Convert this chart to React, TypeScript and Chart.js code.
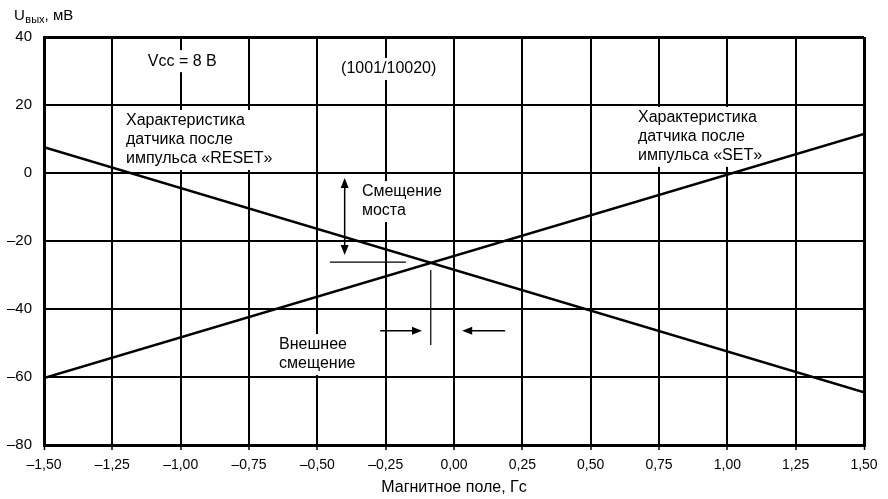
import { useEffect, useRef } from "react";
import { Chart, registerables } from "chart.js";

Chart.register(...registerables);

// ---- data ----
const fieldGs = [-1.5, 1.5];
const resetMv = [7.6, -64.5];
const setMv = [-60.3, 11.5];

const xMin = -1.5;
const xMax = 1.5;
const xStep = 0.25;
const yMin = -80;
const yMax = 40;
const yStep = 20;

const yTitleMain = "U";
const yTitleSub = "вых";
const yTitleRest = ", мВ";
const xTitle = "Магнитное поле, Гс";

const noteTexts = [
  ["Vcc = 8 В"],
  ["(1001/10020)"],
  ["Характеристика", "датчика после", "импульса «RESET»"],
  ["Характеристика", "датчика после", "импульса «SET»"],
  ["Смещение", "моста"],
  ["Внешнее", "смещение"],
];
// anchor (left, first line centre) in data units
const noteX = [-1.12, -0.413, -1.2, 0.673, -0.337, -0.64];
const noteY = [32.9, 30.6, 15.3, 16.2, -5.6, -50.6];

const FONT = "Liberation Sans, Arial, sans-serif";

function fmtX(v: number) {
  return v.toFixed(2).replace(".", ",").replace("-", "–");
}
function fmtY(v: number) {
  return String(v).replace("-", "–");
}

function arrowHead(ctx: CanvasRenderingContext2D, x: number, y: number, dx: number, dy: number) {
  const len = 10;
  const hw = 4;
  const px = -dy;
  const py = dx;
  ctx.beginPath();
  ctx.moveTo(x, y);
  ctx.lineTo(x - dx * len + px * hw, y - dy * len + py * hw);
  ctx.lineTo(x - dx * len - px * hw, y - dy * len - py * hw);
  ctx.closePath();
  ctx.fill();
}

const notesPlugin = {
  id: "notes",
  beforeDatasetsDraw(chart: any) {
    const ctx: CanvasRenderingContext2D = chart.ctx;
    const xs = chart.scales.x;
    const ys = chart.scales.y;
    ctx.save();
    ctx.font = `16px ${FONT}`;
    ctx.textBaseline = "middle";
    ctx.textAlign = "left";
    const lh = 19;
    noteTexts.forEach((lines, i) => {
      const left = xs.getPixelForValue(noteX[i]);
      const top = ys.getPixelForValue(noteY[i]);
      let w = 0;
      lines.forEach((l) => (w = Math.max(w, ctx.measureText(l).width)));
      ctx.fillStyle = "#fff";
      ctx.fillRect(left - 4, top - 11, w + 8, (lines.length - 1) * lh + 22);
      ctx.fillStyle = "#000";
      lines.forEach((l, k) => ctx.fillText(l, left, top + k * lh));
    });
    ctx.restore();
  },
  afterDatasetsDraw(chart: any) {
    const ctx: CanvasRenderingContext2D = chart.ctx;
    const xs = chart.scales.x;
    const ys = chart.scales.y;
    const X = (v: number) => xs.getPixelForValue(v);
    const Y = (v: number) => ys.getPixelForValue(v);
    ctx.save();
    ctx.strokeStyle = "#000";
    ctx.fillStyle = "#000";
    // thin reference lines
    ctx.lineWidth = 1.2;
    ctx.beginPath();
    ctx.moveTo(X(-0.454), Y(-26.2));
    ctx.lineTo(X(-0.176), Y(-26.2));
    ctx.moveTo(X(-0.085), Y(-28.5));
    ctx.lineTo(X(-0.085), Y(-50.6));
    ctx.stroke();
    // double arrow
    ctx.lineWidth = 1.5;
    const ax = X(-0.4);
    const ay1 = Y(-1.5);
    const ay2 = Y(-24.1);
    ctx.beginPath();
    ctx.moveTo(ax, ay1 + 8);
    ctx.lineTo(ax, ay2 - 8);
    ctx.stroke();
    arrowHead(ctx, ax, ay1, 0, -1);
    arrowHead(ctx, ax, ay2, 0, 1);
    // right arrow
    const hy = Y(-46.4);
    ctx.beginPath();
    ctx.moveTo(X(-0.27), hy);
    ctx.lineTo(X(-0.117) - 8, hy);
    ctx.stroke();
    arrowHead(ctx, X(-0.117), hy, 1, 0);
    // left arrow
    ctx.beginPath();
    ctx.moveTo(X(0.187), hy);
    ctx.lineTo(X(0.03) + 8, hy);
    ctx.stroke();
    arrowHead(ctx, X(0.03), hy, -1, 0);
    ctx.restore();
  },
  afterDraw(chart: any) {
    const ctx: CanvasRenderingContext2D = chart.ctx;
    const ca = chart.chartArea;
    ctx.save();
    ctx.fillStyle = "#000";
    ctx.textBaseline = "alphabetic";
    ctx.textAlign = "left";
    ctx.font = `15px ${FONT}`;
    let x = 14;
    ctx.fillText(yTitleMain, x, 20);
    x += ctx.measureText(yTitleMain).width + 0.5;
    ctx.font = `11px ${FONT}`;
    ctx.fillText(yTitleSub, x, 23);
    x += ctx.measureText(yTitleSub).width;
    ctx.font = `15px ${FONT}`;
    ctx.fillText(yTitleRest, x, 20);
    ctx.textAlign = "center";
    ctx.font = `16px ${FONT}`;
    ctx.fillText(xTitle, (ca.left + ca.right) / 2, 492);
    ctx.restore();
  },
};

export default function App() {
  const ref = useRef<HTMLCanvasElement>(null);
  useEffect(() => {
    if (!ref.current) return;
    const chart = new Chart(ref.current, {
      type: "scatter",
      data: {
        datasets: [
          {
            label: "RESET",
            data: fieldGs.map((x, i) => ({ x, y: resetMv[i] })),
            showLine: true,
            borderColor: "#000",
            borderWidth: 2.6,
            pointRadius: 0,
          },
          {
            label: "SET",
            data: fieldGs.map((x, i) => ({ x, y: setMv[i] })),
            showLine: true,
            borderColor: "#000",
            borderWidth: 2.6,
            pointRadius: 0,
          },
        ],
      },
      options: {
        animation: false,
        responsive: false,
        layout: { padding: { left: 0, top: 37, right: 24, bottom: 0 } },
        plugins: { legend: { display: false }, tooltip: { enabled: false } },
        scales: {
          x: {
            type: "linear",
            min: xMin,
            max: xMax,
            afterFit: (s: any) => {
              s.height = 54;
            },
            ticks: {
              stepSize: xStep,
              callback: (v: any) => fmtX(Number(v)),
              color: "#000",
              font: { family: FONT, size: 14 },
              padding: 7,
              maxRotation: 0,
              autoSkip: false,
            },
            grid: {
              color: "#000",
              lineWidth: (c: any) =>
                c.tick && (c.tick.value === xMin || c.tick.value === xMax) ? 3 : 2,
              drawTicks: true,
              tickLength: 5,
              tickWidth: 1.5,
              tickColor: "#000",
            },
            border: { color: "#000", width: 3 },
          },
          y: {
            min: yMin,
            max: yMax,
            afterFit: (s: any) => {
              s.width = 44;
            },
            ticks: {
              stepSize: yStep,
              callback: (v: any) => fmtY(Number(v)),
              color: "#000",
              font: { family: FONT, size: 15 },
              padding: 12,
            },
            grid: {
              color: "#000",
              lineWidth: (c: any) =>
                c.tick && (c.tick.value === yMin || c.tick.value === yMax) ? 3 : 2,
              drawTicks: false,
            },
            border: { color: "#000", width: 3 },
          },
        },
      },
      plugins: [notesPlugin],
    });
    return () => chart.destroy();
  }, []);
  return (
    <div style={{ position: "fixed", left: 0, top: 0, width: 888, height: 499, background: "#fff" }}>
      <canvas ref={ref} width={888} height={499} style={{ display: "block" }} />
    </div>
  );
}
